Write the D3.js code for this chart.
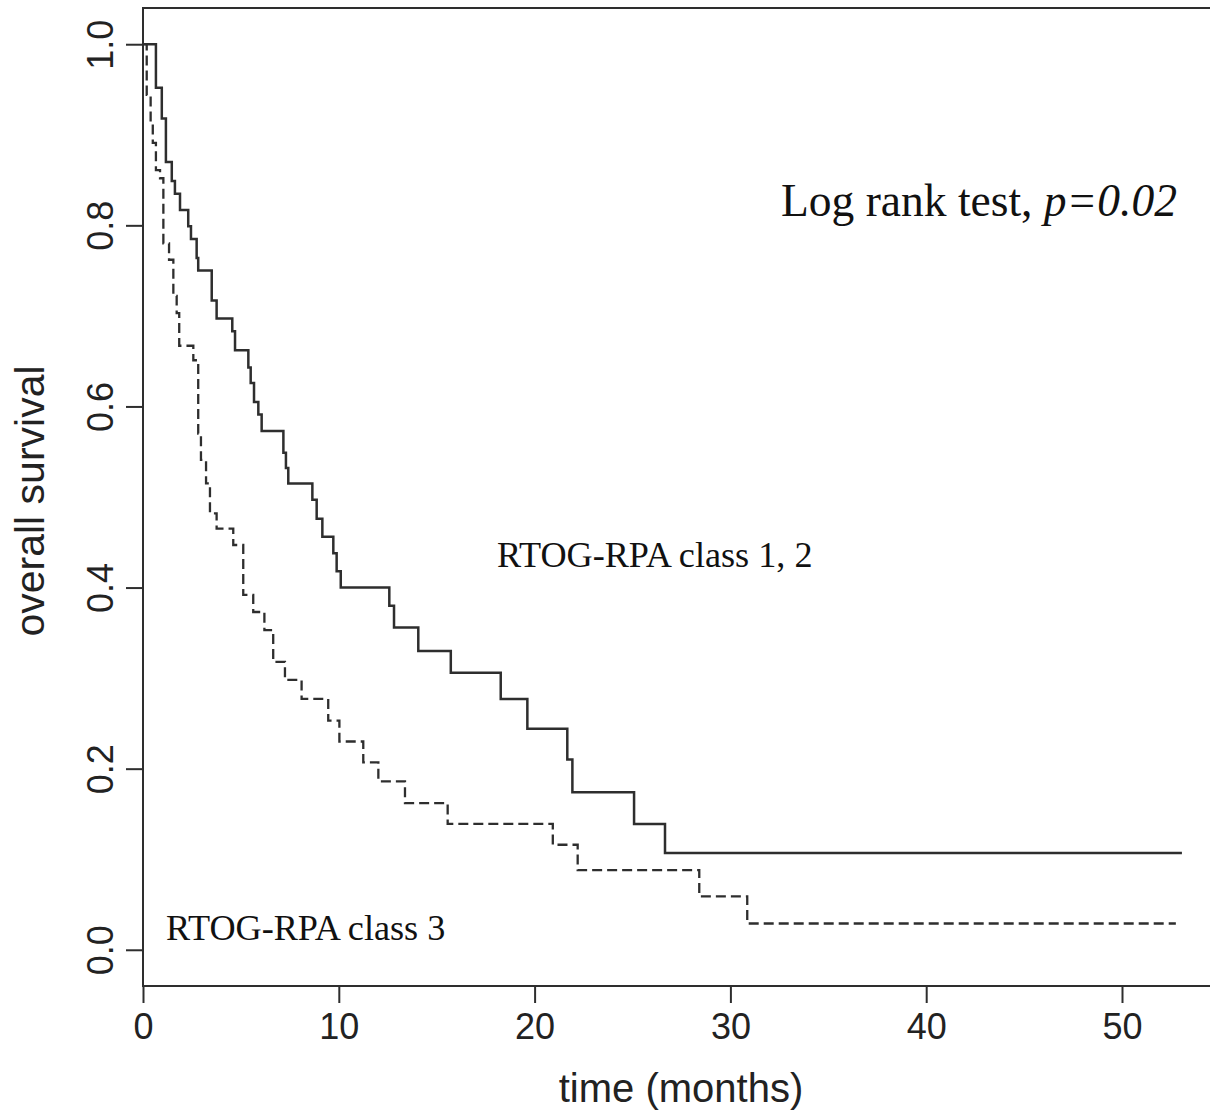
<!DOCTYPE html>
<html>
<head>
<meta charset="utf-8">
<script src="https://cdn.jsdelivr.net/npm/d3@7"></script>
<style>
  html, body { margin: 0; padding: 0; background: #fff; }
  svg { display: block; }
</style>
</head>
<body>
<svg id="chart" width="1210" height="1112"></svg>
<script>
// ---- data ----
const class12Times = [0, 0.66, 0.96, 1.17, 1.47, 1.63, 1.89, 2.31, 2.45, 2.74, 2.82, 3.51, 3.76, 4.56, 4.70, 5.38, 5.50, 5.67, 5.89, 6.06, 7.17, 7.30, 7.42, 8.65, 8.87, 9.16, 9.72, 9.89, 10.10, 12.58, 12.82, 14.06, 15.72, 18.27, 19.63, 21.67, 21.93, 25.08, 26.66, 53.06];
const class12Surv  = [1.0, 0.952, 0.918, 0.870, 0.849, 0.835, 0.817, 0.799, 0.785, 0.764, 0.750, 0.717, 0.697, 0.683, 0.662, 0.643, 0.626, 0.605, 0.591, 0.573, 0.549, 0.532, 0.515, 0.497, 0.476, 0.456, 0.438, 0.418, 0.400, 0.380, 0.356, 0.330, 0.306, 0.277, 0.244, 0.210, 0.174, 0.139, 0.107, 0.107];

const class3Times = [0, 0.19, 0.39, 0.50, 0.66, 0.87, 1.04, 1.33, 1.55, 1.72, 1.85, 2.57, 2.82, 2.96, 3.22, 3.42, 3.76, 4.61, 5.12, 5.63, 6.20, 6.65, 7.25, 8.10, 9.46, 10.03, 11.25, 12.02, 13.38, 15.56, 20.93, 22.20, 28.41, 30.86, 52.75];
const class3Surv  = [1.0, 0.944, 0.912, 0.891, 0.861, 0.852, 0.780, 0.762, 0.722, 0.703, 0.667, 0.651, 0.570, 0.541, 0.515, 0.482, 0.465, 0.447, 0.392, 0.373, 0.353, 0.318, 0.298, 0.277, 0.253, 0.230, 0.207, 0.186, 0.162, 0.139, 0.116, 0.088, 0.059, 0.029, 0.029];

const xTicks = [0, 10, 20, 30, 40, 50];
const yTicks = [0.0, 0.2, 0.4, 0.6, 0.8, 1.0];

// ---- layout ----
const svg = d3.select("#chart");
const boxL = 143, boxT = 8, boxB = 986, boxR = 1240;
const ink = "#2e2e2e";

const x = d3.scaleLinear().domain([0, 50]).range([143, 1122]);
const y = d3.scaleLinear().domain([-0.04, 1.04]).range([boxB, boxT]);

// box
svg.append("rect")
  .attr("x", boxL).attr("y", boxT)
  .attr("width", boxR - boxL).attr("height", boxB - boxT)
  .attr("fill", "none").attr("stroke", ink).attr("stroke-width", 2);

// x axis
const xAxis = svg.append("g").attr("transform", `translate(0,${boxB})`)
  .call(d3.axisBottom(x).tickValues(xTicks).tickSize(17).tickSizeOuter(0).tickPadding(10).tickFormat(d3.format("d")));
xAxis.select(".domain").remove();
xAxis.selectAll("line").attr("stroke", ink).attr("stroke-width", 2);
xAxis.selectAll("text").attr("font-family", "'Liberation Sans', Arial, sans-serif")
  .attr("font-size", 36).attr("fill", "#222");

// y axis
const yAxis = svg.append("g").attr("transform", `translate(${boxL},0)`)
  .call(d3.axisLeft(y).tickValues(yTicks).tickSize(17).tickSizeOuter(0).tickFormat(d3.format(".1f")));
yAxis.select(".domain").remove();
yAxis.selectAll("line").attr("stroke", ink).attr("stroke-width", 2);
yAxis.selectAll("text")
  .attr("font-family", "'Liberation Sans', Arial, sans-serif")
  .attr("font-size", 36).attr("fill", "#222")
  .attr("text-anchor", "middle")
  .attr("x", null).attr("dy", null)
  .attr("transform", "translate(-30,0) rotate(-90)");

// curves
const line = d3.line().x((d) => x(d[0])).y((d) => y(d[1])).curve(d3.curveStepAfter);
const s12 = class12Times.map((t, i) => [t, class12Surv[i]]);
const s3 = class3Times.map((t, i) => [t, class3Surv[i]]);

svg.append("path").datum(s3).attr("d", line)
  .attr("fill", "none").attr("stroke", ink).attr("stroke-width", 2.3)
  .attr("stroke-dasharray", "10,5");
svg.append("path").datum(s12).attr("d", line)
  .attr("fill", "none").attr("stroke", ink).attr("stroke-width", 2.5);

// axis titles
svg.append("text").attr("x", 681).attr("y", 1102)
  .attr("text-anchor", "middle")
  .attr("font-family", "'Liberation Sans', Arial, sans-serif")
  .attr("font-size", 40).attr("fill", "#222")
  .text("time (months)");

svg.append("text")
  .attr("transform", "translate(44,501) rotate(-90)")
  .attr("text-anchor", "middle")
  .attr("font-family", "'Liberation Sans', Arial, sans-serif")
  .attr("font-size", 41).attr("fill", "#222")
  .text("overall survival");

// annotations
const serif = "'Liberation Serif', 'Times New Roman', serif";
const lr = svg.append("text").attr("x", 781).attr("y", 216)
  .attr("font-family", serif).attr("font-size", 45.5).attr("fill", "#111");
lr.append("tspan").text("Log rank test, ");
lr.append("tspan").attr("font-style", "italic").text("p=0.02");

svg.append("text").attr("x", 497).attr("y", 567)
  .attr("font-family", serif).attr("font-size", 36.2).attr("fill", "#111")
  .text("RTOG-RPA class 1, 2");

svg.append("text").attr("x", 166).attr("y", 940)
  .attr("font-family", serif).attr("font-size", 36.2).attr("fill", "#111")
  .text("RTOG-RPA class 3");
</script>
</body>
</html>
